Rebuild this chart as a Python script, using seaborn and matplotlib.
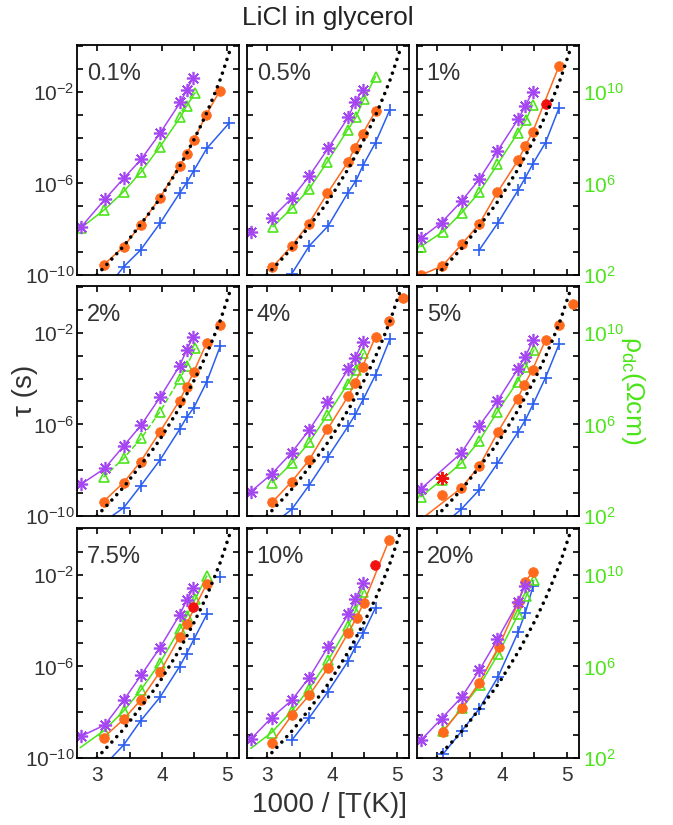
import numpy as np
import pandas as pd
import matplotlib
matplotlib.use("Agg")
import matplotlib.pyplot as plt
from matplotlib.ticker import FixedLocator, FuncFormatter, NullLocator
import seaborn as sns

# ---------------------------------------------------------------- data
# x: 1000/T (1/K), y: log10(tau / s).  Right-hand scale: rho_dc = tau * 1e12
PANELS = ["0.1%", "0.5%", "1%", "2%", "4%", "5%", "7.5%", "10%", "20%"]

ASTERISK = {  # violet asterisks
    "0.1%": ([2.76, 3.12, 3.41, 3.68, 3.97, 4.28, 4.38, 4.48], [-7.89, -6.70, -5.78, -4.95, -3.81, -2.47, -1.92, -1.38]),
    "0.5%": ([3.07, 3.38, 3.65, 3.94, 4.25, 4.35, 4.47], [-7.53, -6.65, -5.68, -4.47, -3.11, -2.47, -1.92]),
    "1%": ([2.75, 3.07, 3.38, 3.65, 3.93, 4.25, 4.36, 4.47], [-8.40, -7.71, -6.77, -5.82, -4.59, -3.19, -2.62, -1.99]),
    "2%": ([2.76, 3.12, 3.41, 3.68, 3.97, 4.27, 4.38, 4.48], [-8.60, -7.92, -6.94, -6.03, -4.82, -3.45, -2.75, -2.17]),
    "4%": ([2.75, 3.07, 3.38, 3.65, 3.93, 4.25, 4.36, 4.47], [-8.94, -8.17, -7.23, -6.24, -5.04, -3.58, -3.09, -2.39]),
    "5%": ([2.75, 3.37, 3.65, 3.93, 4.24, 4.36, 4.48], [-8.82, -7.26, -6.06, -4.98, -3.60, -3.04, -2.31]),
    "7.5%": ([2.76, 3.12, 3.41, 3.68, 3.97, 4.27, 4.38, 4.48], [-9.04, -8.56, -7.48, -6.38, -5.18, -3.76, -3.11, -2.59]),
    "10%": ([2.75, 3.07, 3.38, 3.65, 3.94, 4.25, 4.36, 4.48], [-9.18, -8.24, -7.48, -6.49, -5.14, -3.73, -3.07, -2.34]),
    "20%": ([2.75, 3.07, 3.38, 3.65, 3.93, 4.25, 4.35], [-9.23, -8.28, -7.34, -6.17, -4.82, -3.19, -2.49]),
}
ASTERISK_LONE = {"0.5%": ([2.75], [-8.14])}

TRIANGLE = {  # green open triangles (rho_dc)
    "0.1%": ([2.76, 3.11, 3.41, 3.68, 3.97, 4.28, 4.38, 4.51], [-7.93, -7.16, -6.36, -5.49, -4.40, -3.12, -2.62, -2.04]),
    "0.5%": ([3.09, 3.38, 3.65, 3.93, 4.24, 4.37, 4.49, 4.67], [-7.89, -7.09, -6.24, -5.05, -3.67, -3.11, -2.33, -1.34]),
    "1%": ([2.75, 3.09, 3.38, 3.65, 3.93, 4.24, 4.37, 4.47], [-8.76, -8.11, -7.28, -6.39, -5.17, -3.81, -3.23, -2.58]),
    "2%": ([3.10, 3.41, 3.68, 3.97, 4.27, 4.38, 4.51], [-8.31, -7.48, -6.61, -5.44, -4.03, -3.45, -2.68]),
    "4%": ([3.08, 3.38, 3.65, 3.93, 4.24, 4.37, 4.48], [-8.54, -7.70, -6.78, -5.59, -4.24, -3.62, -2.90]),
    "5%": ([2.75, 3.07, 3.37, 3.65, 3.93, 4.24, 4.36, 4.49], [-9.16, -8.43, -7.70, -6.72, -5.44, -4.13, -3.51, -2.75]),
    "7.5%": ([3.10, 3.41, 3.67, 3.97, 4.27, 4.38, 4.51, 4.69], [-8.82, -7.95, -7.05, -5.84, -4.38, -3.80, -3.07, -2.05]),
    "10%": ([3.07, 3.38, 3.65, 3.94, 4.25, 4.36, 4.48], [-8.89, -7.95, -6.97, -5.74, -4.24, -3.58, -2.74]),
    "20%": ([3.09, 3.39, 3.66, 3.94, 4.25, 4.37, 4.49], [-8.82, -7.80, -6.81, -5.47, -3.73, -2.95, -2.24]),
}

CIRCLE = {  # orange filled circles
    "0.1%": ([3.10, 3.41, 3.67, 3.97, 4.27, 4.38, 4.49, 4.68, 4.89], [-9.56, -8.76, -7.82, -6.62, -5.23, -4.73, -4.10, -3.01, -1.96]),
    "0.5%": ([3.08, 3.38, 3.64, 3.93, 4.25, 4.35, 4.47, 4.67], [-9.67, -8.73, -7.77, -6.43, -5.05, -4.44, -3.84, -2.84]),
    "1%": ([2.75, 3.08, 3.38, 3.65, 3.93, 4.25, 4.36, 4.47, 4.88], [-10.0, -9.61, -8.66, -7.77, -6.39, -4.98, -4.36, -3.77, -0.86]),
    "2%": ([3.10, 3.41, 3.67, 3.97, 4.27, 4.38, 4.49, 4.69], [-9.37, -8.54, -7.63, -6.32, -4.96, -4.35, -3.70, -2.43]),
    "4%": ([3.08, 3.38, 3.65, 3.93, 4.25, 4.35, 4.47, 4.67], [-9.40, -8.50, -7.55, -6.22, -4.76, -4.21, -3.48, -2.17]),
    "5%": ([3.37, 3.65, 3.94, 4.24, 4.34, 4.47, 4.67], [-8.79, -7.82, -6.32, -4.89, -4.28, -3.62, -2.31]),
    "7.5%": ([3.10, 3.41, 3.67, 3.97, 4.27, 4.38, 4.69], [-9.11, -8.31, -7.47, -6.24, -4.72, -4.13, -2.39]),
    "10%": ([3.07, 3.38, 3.65, 3.94, 4.25, 4.38, 4.49, 4.88], [-9.36, -8.14, -7.26, -6.06, -4.53, -3.87, -3.22, -0.48]),
    "20%": ([3.09, 3.39, 3.65, 3.95, 4.25, 4.35, 4.48], [-8.86, -7.80, -6.71, -5.14, -3.22, -2.31, -1.88]),
}
CIRCLE_LONE = {
    "2%": ([4.90], [-1.66]),
    "4%": ([4.88, 5.10], [-1.47, -0.47]),
    "5%": ([3.07, 4.88, 5.10], [-9.08, -1.66, -0.76]),
}

PLUS = {  # blue crosses
    "0.1%": ([3.41, 3.67, 3.97, 4.27, 4.38, 4.49, 4.69, 5.03], [-9.64, -8.91, -7.74, -6.43, -5.97, -5.44, -4.47, -3.38]),
    "0.5%": ([3.38, 3.65, 3.94, 4.24, 4.37, 4.48, 4.67, 4.89], [-9.95, -8.73, -7.86, -6.43, -5.88, -5.20, -4.22, -2.79]),
    "1%": ([3.65, 3.94, 4.25, 4.36, 4.47, 4.67, 4.88], [-8.91, -7.71, -6.29, -5.75, -5.17, -4.22, -2.69]),
    "2%": ([3.41, 3.67, 3.97, 4.27, 4.38, 4.49, 4.69, 4.90], [-9.64, -8.69, -7.55, -6.22, -5.69, -5.27, -4.13, -2.56]),
    "4%": ([3.38, 3.65, 3.94, 4.25, 4.36, 4.48, 4.67, 4.89], [-9.71, -8.65, -7.41, -6.07, -5.56, -4.91, -3.84, -2.29]),
    "5%": ([3.37, 3.65, 3.93, 4.25, 4.36, 4.48, 4.67, 4.88], [-9.71, -8.86, -7.70, -6.32, -5.81, -5.11, -3.96, -2.49]),
    "7.5%": ([3.41, 3.67, 3.97, 4.27, 4.38, 4.49, 4.69], [-9.43, -8.38, -7.34, -6.01, -5.44, -4.82, -3.73]),
    "10%": ([3.38, 3.65, 3.94, 4.25, 4.36, 4.48, 4.67], [-9.23, -8.24, -7.10, -5.76, -5.15, -4.56, -3.44]),
    "20%": ([3.09, 3.38, 3.65, 3.94, 4.25, 4.36, 4.48], [-9.84, -8.82, -7.85, -6.45, -4.50, -3.65, -2.49]),
}
PLUS_LONE = {"7.5%": ([4.90], [-2.10])}

# where a fitted curve starts below / left of its first symbol
CURVE_HEAD = {
    ("plus", "0.1%"): (3.31, -10.0),
    ("plus", "2%"): (3.23, -10.0),
    ("plus", "4%"): (3.25, -10.0),
    ("plus", "5%"): (3.25, -10.0),
    ("plus", "7.5%"): (3.22, -10.0),
    ("circle", "5%"): (2.82, -10.0),
    ("triangle", "7.5%"): (2.74, -9.55),
    ("triangle", "10%"): (2.75, -9.58),
}

RED_CIRCLE = {"1%": (4.67, -2.53), "7.5%": (4.48, -3.41), "10%": (4.66, -1.57)}
RED_ASTERISK = {"5%": (3.07, -8.36)}

# pure glycerol reference (dotted)
GLYCEROL_X = [3.00, 3.08, 3.21, 3.41, 3.67, 3.85, 3.97, 4.13, 4.27, 4.49, 4.59, 4.69, 4.79, 4.90, 5.05]
GLYCEROL_Y = [-10.0, -9.75, -9.36, -8.74, -7.79, -7.13, -6.65, -5.92, -5.27, -4.10, -3.52, -2.91, -2.23, -1.44, -0.16]

DASHED_TRIANGLE = {"2%"}

# ---------------------------------------------------------------- style
VIOLET = "#A546F2"
GREEN = "#4CE41A"
ORANGE = "#FF6A1C"
BLUE = "#2A5EF0"
RED = "#F21010"
TEXT = "#333333"
ASTER = (8, 2, 0)

sns.set_theme(style="ticks")
plt.rcParams.update({
    "font.family": ["Liberation Sans", "DejaVu Sans"],
    "mathtext.default": "regular",
    "axes.linewidth": 1.3,
    "axes.edgecolor": "black",
    "text.color": TEXT,
})

fig = plt.figure(figsize=(6.73, 8.25), dpi=100)
W, H = 673.0, 825.0
COL_LEFT = [77, 247, 417]
ROW_TOP = [45, 286, 528]
PW, PH = 162, 230


def frame(xs, ys):
    return pd.DataFrame({"x": np.asarray(xs, float), "tau": 10.0 ** np.asarray(ys, float)})


def curve(ax, xs, ys, color, ls="-", lw=1.1):
    sns.lineplot(data=frame(xs, ys), x="x", y="tau", ax=ax, color=color,
                 linestyle=ls, linewidth=lw, estimator=None, sort=False)


def symbols(ax, xs, ys, color, marker, ms, mfc, mew):
    sns.lineplot(data=frame(xs, ys), x="x", y="tau", ax=ax, color=color,
                 linestyle="none", marker=marker, markersize=ms,
                 markerfacecolor=mfc, markeredgecolor=color,
                 markeredgewidth=mew, estimator=None, sort=False)


def series(ax, key, name, table, color, marker, ms, mfc, mew, ls="-"):
    if name not in table:
        return
    xs, ys = table[name]
    lx, ly = list(xs), list(ys)
    if (key, name) in CURVE_HEAD:
        hx, hy = CURVE_HEAD[(key, name)]
        lx, ly = [hx] + lx, [hy] + ly
    curve(ax, lx, ly, color, ls=ls)
    symbols(ax, xs, ys, color, marker, ms, mfc, mew)


def left_fmt(v, pos):
    e = int(round(np.log10(v)))
    return f"$10^{{{e}}}$" if e in (-10, -6, -2) else ""


def right_fmt(v, pos):
    e = int(round(np.log10(v)))
    return f"$10^{{{e + 12}}}$" if e in (-10, -6, -2) else ""


def x_fmt(v, pos):
    return f"{v:.0f}" if abs(v - round(v)) < 1e-6 else ""


for i, name in enumerate(PANELS):
    r, c = divmod(i, 3)
    ax = fig.add_axes([COL_LEFT[c] / W, 1 - (ROW_TOP[r] + PH) / H, PW / W, PH / H])
    ax.set_xscale("linear")
    ax.set_yscale("log")

    series(ax, "plus", name, PLUS, BLUE, "+", 8.5, BLUE, 1.2)
    if name in PLUS_LONE:
        symbols(ax, *PLUS_LONE[name], BLUE, "+", 8.5, BLUE, 1.2)
    series(ax, "triangle", name, TRIANGLE, GREEN, "^", 7, "none", 1.2,
           ls="--" if name in DASHED_TRIANGLE else "-")
    series(ax, "circle", name, CIRCLE, ORANGE, "o", 7, ORANGE, 0.5)
    if name in CIRCLE_LONE:
        symbols(ax, *CIRCLE_LONE[name], ORANGE, "o", 7, ORANGE, 0.5)
    series(ax, "asterisk", name, ASTERISK, VIOLET, ASTER, 9.5, VIOLET, 1.2)
    if name in ASTERISK_LONE:
        symbols(ax, *ASTERISK_LONE[name], VIOLET, ASTER, 9.5, VIOLET, 1.2)
    if name in RED_CIRCLE:
        px, py = RED_CIRCLE[name]
        symbols(ax, [px], [py], RED, "o", 7, RED, 0.5)
    if name in RED_ASTERISK:
        px, py = RED_ASTERISK[name]
        symbols(ax, [px], [py], RED, ASTER, 9.5, RED, 1.4)

    sns.lineplot(data=frame(GLYCEROL_X, GLYCEROL_Y), x="x", y="tau", ax=ax,
                 color="black", linewidth=2.6, linestyle=(0, (0.01, 2.0)),
                 dash_capstyle="round", estimator=None, sort=False)

    ax.set_xlim(2.692, 5.185)
    ax.set_ylim(1e-10, 10 ** 0.04)
    ax.xaxis.set_major_locator(FixedLocator([3.0, 3.5, 4.0, 4.5, 5.0]))
    ax.xaxis.set_major_formatter(FuncFormatter(x_fmt))
    ax.xaxis.set_minor_locator(NullLocator())
    ax.yaxis.set_major_locator(FixedLocator(10.0 ** np.arange(-10, 1)))
    ax.yaxis.set_minor_locator(NullLocator())
    ax.yaxis.set_major_formatter(FuncFormatter(right_fmt if c == 2 else left_fmt))

    ax.tick_params(which="both", direction="in", length=4.2, width=1.2,
                   top=True, right=True, bottom=True, left=True,
                   labelsize=15, labelcolor=TEXT, color="black",
                   labelbottom=(r == 2), labeltop=False,
                   labelleft=(c == 0), labelright=(c == 2))
    ax.tick_params(axis="y", pad=2)
    ax.tick_params(axis="x", pad=6)
    if c == 2:
        ax.tick_params(axis="y", labelcolor=GREEN, pad=3)
    ax.set_xlabel("")
    ax.set_ylabel("")
    for sp in ax.spines.values():
        sp.set_visible(True)
        sp.set_linewidth(1.3)

    ax.text(0.06, 0.875, name, transform=ax.transAxes, ha="left", va="center",
            fontsize=17, color=TEXT)

fig.text(328 / W, 1 - 18 / H, "LiCl in glycerol", ha="center", va="center",
         fontsize=19, color="#222222")
fig.text(329 / W, 1 - 805 / H, "1000 / [T(K)]", ha="center", va="center",
         fontsize=20, color=TEXT)
fig.text(25 / W, 1 - 390 / H, "τ (s)", ha="center", va="center",
         rotation=90, fontsize=20, color=TEXT)
fig.text(633 / W, 1 - 390 / H, "ρ$_{dc}$(Ωcm)", ha="center", va="center",
         rotation=-90, fontsize=19, color=GREEN)

fig.savefig("out.png", dpi=100)
